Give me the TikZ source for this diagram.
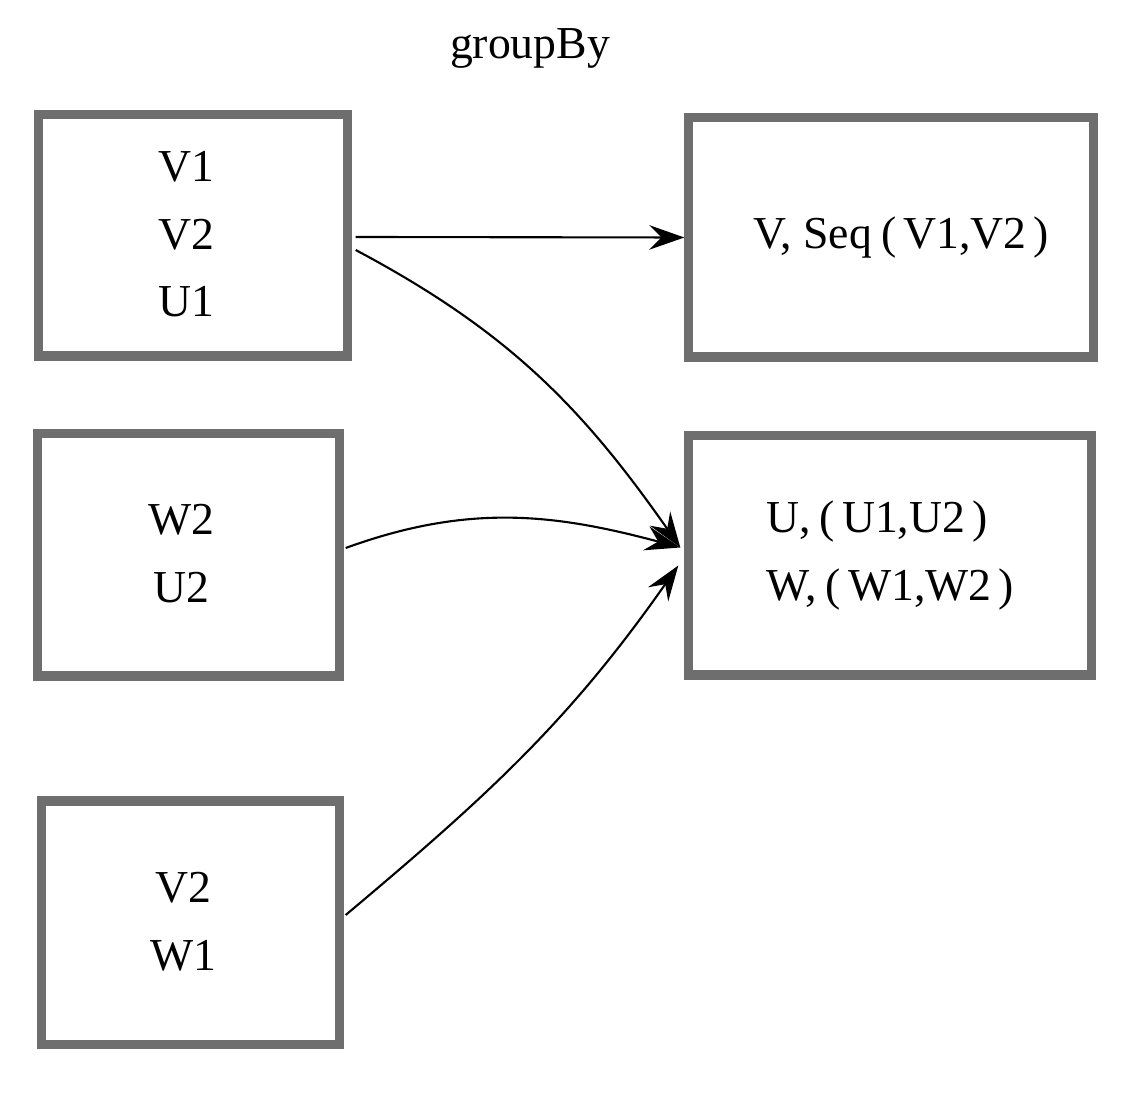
\documentclass[tikz,border=0pt]{standalone}
\usepackage{fontspec}
\setmainfont{Liberation Serif}
\usetikzlibrary{calc, arrows.meta}
\definecolor{boxgray}{RGB}{110,110,110}
\newcommand{\lpar}{\hspace{0.2em}(\hspace{0.15em}}
\newcommand{\rpar}{\hspace{0.15em})}
% colonne un peu decalee vers la gauche
\newcommand{\leftcol}[1]{\begin{tabular}{@{}c@{\hspace{0.14cm}}}#1\end{tabular}}

\begin{document}
\begin{tikzpicture}[x=0.01cm, y=0.01cm,
  setbox/.style={draw=boxgray, line width=2.6pt, inner sep=0pt,
    font=\fontsize{13}{19.3}\selectfont},
  arr/.style={-{Stealth[length=10pt, width=7pt, inset=3.5pt]}, line width=0.6pt}]
  \useasboundingbox (0,0) rectangle (1134,-1104);
  % Titre
  \node[font=\fontsize{13}{16}\selectfont] (title) at (530,-48) {groupBy};
  % Partitions d'entree
  \node[setbox, minimum width=3.08cm, minimum height=2.41cm]
    (L1) at (193,-235.5) {\leftcol{V1\\V2\\U1}};
  \node[setbox, minimum width=3.01cm, minimum height=2.42cm]
    (L2) at (188.5,-555) {\leftcol{W2\\U2}};
  \node[setbox, minimum width=2.97cm, minimum height=2.43cm]
    (L3) at (190.5,-922.5) {\leftcol{V2\\W1}};
  % Partitions de sortie
  \node[setbox, align=center, minimum width=4.04cm, minimum height=2.39cm]
    (R1) at (891,-237.5) {\hspace*{0.2cm}V, Seq\lpar V1,V2\rpar};
  \node[setbox, align=left, minimum width=4.02cm, minimum height=2.39cm]
    (R2) at (890,-555.5) {U,\lpar U1,U2\rpar\\W,\lpar W1,W2\rpar};
  % Fleches
  \draw[arr] ($(L1.east)+(4,-1.5)$) -- (R1.west);
  \draw[arr] ($(L1.east)+(4,-14.5)$) to[out=-28, in=125] ($(R2.west)+(-4,8)$);
  \draw[arr] ($(L2.east)+(2,7)$) to[out=20, in=165] ($(R2.west)+(-4,8)$);
  \draw[arr] ($(L3.east)+(2,7.5)$) to[out=40, in=-125] ($(R2.west)+(-6,-10)$);
\end{tikzpicture}
\end{document}
